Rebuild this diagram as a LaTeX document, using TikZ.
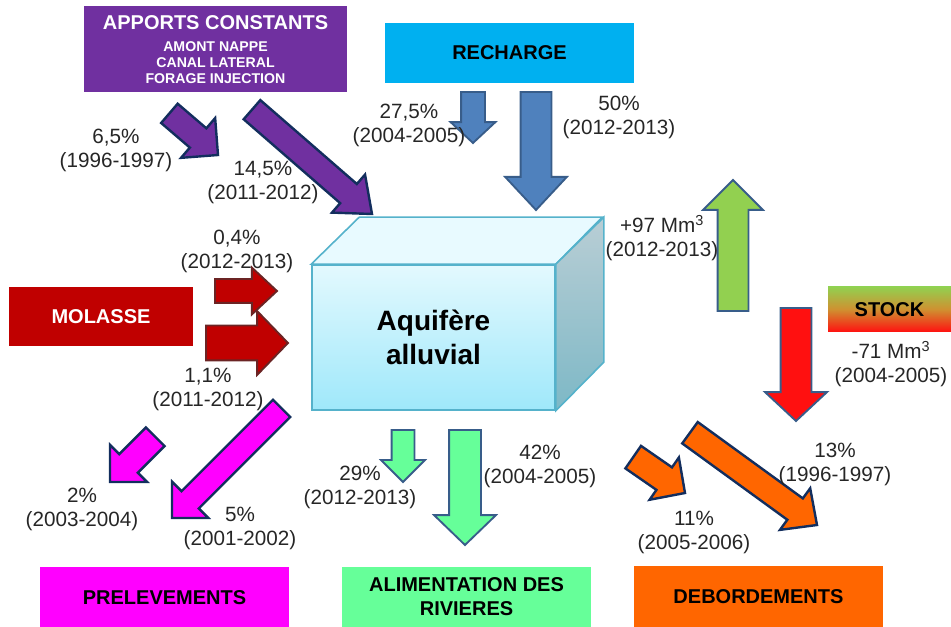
\documentclass[tikz,border=0pt]{standalone}
\usepackage{fontspec}
\setmainfont{Liberation Sans}
\usetikzlibrary{shapes.arrows}
\newcommand{\px}{0.75pt}

\definecolor{apports}{HTML}{7030A0}
\definecolor{recharge}{HTML}{00B0F0}
\definecolor{molasse}{HTML}{C00000}
\definecolor{prelev}{HTML}{FF00FF}
\definecolor{riviere}{HTML}{66FF99}
\definecolor{debord}{HTML}{FF6600}
\definecolor{stockvert}{HTML}{92D050}
\definecolor{stockmilieu}{HTML}{D09030}
\definecolor{stockrouge}{HTML}{FF1010}
\definecolor{marine}{HTML}{132E5E}
\definecolor{bleufleche}{HTML}{4F81BD}
\definecolor{bleubord}{HTML}{385D8A}
\definecolor{brunbord}{HTML}{6B2424}
\definecolor{cubebord}{HTML}{55B2CB}
\definecolor{cubehaut}{HTML}{E3F9FE}
\definecolor{cubebas}{HTML}{9FE8FA}
\definecolor{cubedessus}{HTML}{E8FAFF}
\definecolor{cotehaut}{HTML}{B9CED5}
\definecolor{cotebas}{HTML}{7DB8C6}

\begin{document}
\begin{tikzpicture}[x=\px, y=-\px,
    boite/.style={rectangle, inner sep=0pt, align=center, font=\bfseries\fontsize{15}{18}\selectfont},
    fleche/.style n args={4}{single arrow, draw, line width=1.8pt, anchor=tip, inner xsep=0pt, outer sep=0pt,
        minimum height=#1*\px, inner ysep=#2*\px/2, single arrow head extend={(#3-#2)*\px/2}, single arrow tip angle=#4},
    etiquette/.style={align=center, text=black!85, font=\fontsize{15.5}{18}\selectfont}]
    \useasboundingbox (0,0) rectangle (951,627);

    % Boites
    \node[boite, font=\bfseries\fontsize{10.6}{12}\selectfont, fill=apports, text=white, minimum width=263*\px, minimum height=86*\px] (apports) at (215.5,49.5)
        {{\fontsize{15}{18}\selectfont APPORTS CONSTANTS}\\[4.5pt]
         AMONT NAPPE\\CANAL LATERAL\\FORAGE INJECTION};
    \node[boite, fill=recharge, minimum width=249*\px, minimum height=60*\px] (recharge) at (509.5,53) {RECHARGE};
    \node[boite, fill=molasse, text=white, minimum width=184*\px, minimum height=59*\px] (molasse) at (101,316.5) {MOLASSE};
    \node[boite, top color=stockvert, bottom color=stockrouge, middle color=stockmilieu, minimum width=123*\px, minimum height=45*\px] (stock) at (889.5,309.5) {STOCK};
    \node[boite, fill=prelev, minimum width=249*\px, minimum height=60*\px] (prelevements) at (164.5,597.5) {PRELEVEMENTS};
    \node[boite, fill=riviere, minimum width=249*\px, minimum height=60*\px] (rivieres) at (466.5,597) {ALIMENTATION DES\\RIVIERES};
    \node[boite, fill=debord, minimum width=249*\px, minimum height=61*\px] (debordements) at (758.5,596.5) {DEBORDEMENTS};

    % Aquifere
    \node[boite, font=\bfseries\fontsize{21}{26}\selectfont, draw=cubebord, line width=1.2pt, top color=cubehaut, bottom color=cubebas,
        minimum width=243*\px, minimum height=145*\px] (aquifere) at (433.5,337.5) {Aquifère\\alluvial};
    \draw[cubebord, line width=1.2pt, fill=cubedessus] (aquifere.north west) -- ++(48,-47) -- ++(243,0) -- (aquifere.north east) -- cycle;
    \draw[cubebord, line width=1.2pt, top color=cotehaut, bottom color=cotebas] (aquifere.north east) -- ++(48,-47) -- ++(0,145) -- (aquifere.south east) -- cycle;

    % Fleches
    \node[fleche={64}{23}{50}{90}, fill=apports, draw=marine, rotate=-40.6] (fleche-apports-1) at (218,155) {};
    \node[fleche={159}{23}{48}{78}, fill=apports, draw=marine, rotate=-41] (fleche-apports-2) at (372,214) {};
    \node[fleche={51}{22}{43}{94}, fill=bleufleche, draw=bleubord, line width=1.4pt, rotate=-90] (fleche-recharge-1) at (473,143) {};
    \node[fleche={118}{29}{60}{86}, fill=bleufleche, draw=bleubord, line width=1.4pt, rotate=-90] (fleche-recharge-2) at (536,210) {};
    \node[fleche={62}{22}{45}{86}, fill=molasse, draw=brunbord, line width=1.4pt, rotate=0] (fleche-molasse-1) at (277,291) {};
    \node[fleche={82}{33}{62}{92}, fill=molasse, draw=brunbord, line width=1.4pt, rotate=0] (fleche-molasse-2) at (288,343) {};
    \node[fleche={64}{24}{50}{90}, fill=prelev, draw=marine, rotate=-135] (fleche-prelev-1) at (110,482) {};
    \node[fleche={155}{22}{49}{90}, fill=prelev, draw=marine, rotate=-135] (fleche-prelev-2) at (172,518) {};
    \node[fleche={52}{21}{42}{90}, fill=riviere, draw=bleubord, line width=1.4pt, rotate=-90] (fleche-riviere-1) at (403,482) {};
    \node[fleche={115}{30}{60}{92}, fill=riviere, draw=bleubord, line width=1.4pt, rotate=-90] (fleche-riviere-2) at (465,545) {};
    \node[fleche={131}{29}{58}{90}, fill=stockvert, draw=bleubord, line width=1.4pt, rotate=90] (fleche-stock-1) at (733,180) {};
    \node[fleche={113}{29}{60}{94}, fill=stockrouge, draw=bleubord, line width=1.4pt, rotate=-90] (fleche-stock-2) at (796,421) {};
    \node[fleche={63}{25}{49}{91}, fill=debord, draw=marine, rotate=-34.7] (fleche-debord-1) at (685,493) {};
    \node[fleche={157}{24}{49}{87}, fill=debord, draw=marine, rotate=-36] (fleche-debord-2) at (817,525) {};

    % Valeurs
    \node[etiquette] (val-apports-1) at (116,150) {6,5\%\\(1996-1997)};
    \node[etiquette] (val-apports-2) at (263,182) {14,5\%\\(2011-2012)};
    \node[etiquette] (val-recharge-1) at (409,125) {27,5\%\\(2004-2005)};
    \node[etiquette] (val-recharge-2) at (619,117) {50\%\\(2012-2013)};
    \node[etiquette] (val-molasse-1) at (237,251) {0,4\%\\(2012-2013)};
    \node[etiquette] (val-molasse-2) at (208,389) {1,1\%\\(2011-2012)};
    \node[etiquette] (val-stock-1) at (662,238) {+97 Mm\textsuperscript{3}\\(2012-2013)};
    \node[etiquette] (val-stock-2) at (891,364) {-71 Mm\textsuperscript{3}\\(2004-2005)};
    \node[etiquette] (val-prelev-1) at (82,509) {2\%\\(2003-2004)};
    \node[etiquette] (val-prelev-2) at (240,528) {5\%\\(2001-2002)};
    \node[etiquette] (val-riviere-1) at (360,487) {29\%\\(2012-2013)};
    \node[etiquette] (val-riviere-2) at (540,466) {42\%\\(2004-2005)};
    \node[etiquette] (val-debord-1) at (694,532) {11\%\\(2005-2006)};
    \node[etiquette] (val-debord-2) at (835,464) {13\%\\(1996-1997)};
\end{tikzpicture}
\end{document}
